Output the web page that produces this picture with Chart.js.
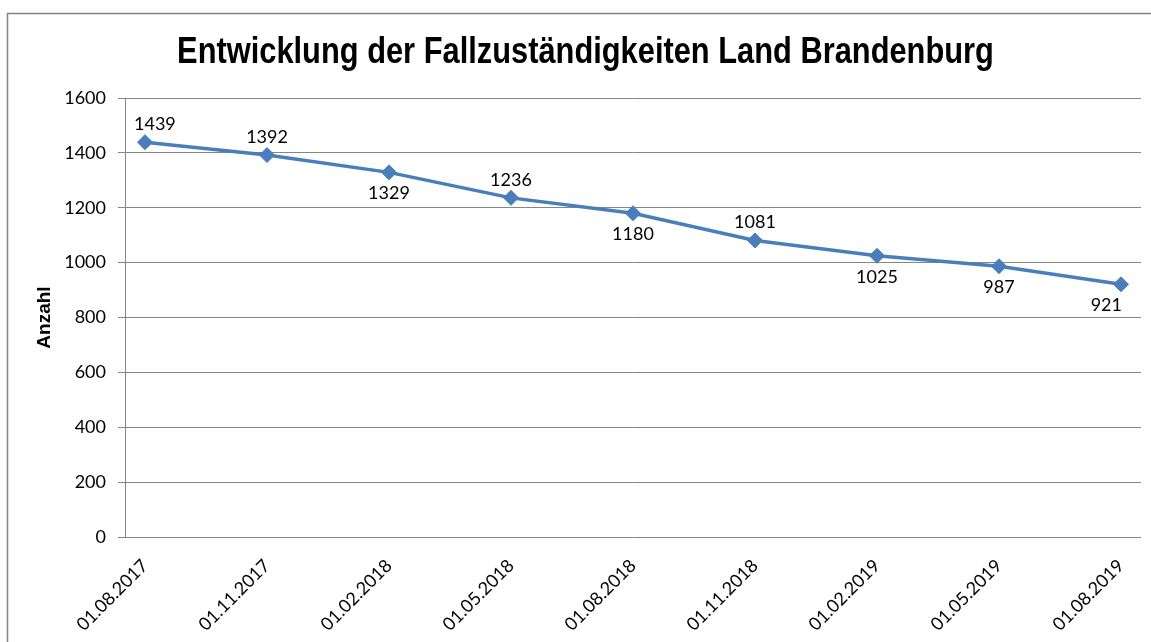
<!DOCTYPE html>
<html><head><meta charset="utf-8">
<script src="https://cdn.jsdelivr.net/npm/chart.js@4.4.1/dist/chart.umd.min.js"></script>
<style>html,body{margin:0;padding:0;background:#fff;overflow:hidden}#wrap{width:1151px;height:642px;position:relative}</style>
</head><body><div id="wrap"><canvas id="c" width="1151" height="642"></canvas></div>
<script>
const categories = ['01.08.2017','01.11.2017','01.02.2018','01.05.2018','01.08.2018','01.11.2018','01.02.2019','01.05.2019','01.08.2019'];
const values = [1439,1392,1329,1236,1180,1081,1025,987,921];
const yTickValues = [0,200,400,600,800,1000,1200,1400,1600];
const titleText = 'Entwicklung der Fallzuständigkeiten Land Brandenburg';
const yAxisTitle = 'Anzahl';

const labelSides = ['above','above','below','above','below','above','below','below','below'];
const TICK_FONT = {family:"Lato, 'Open Sans', sans-serif", size:18};
const GRID = '#868686';
const BLUE = '#4a7ebb';

const framePlugin = {
  id:'frame',
  beforeDraw(chart){
    const ctx = chart.ctx;
    ctx.save();
    ctx.fillStyle='#fff';
    ctx.fillRect(0,0,chart.width,chart.height);
    ctx.strokeStyle='#828282';
    ctx.lineWidth=1.5;
    ctx.strokeRect(7.5,13.5,1170,660);
    ctx.restore();
  }
};

// condensed bold title (Arial Narrow look), drawn as canvas text
const titlePlugin = {
  id:'narrowTitle',
  afterDraw(chart){
    const ctx = chart.ctx;
    ctx.save();
    ctx.font = "bold 37px 'Liberation Sans', Arial, sans-serif";
    ctx.fillStyle = '#000';
    ctx.textBaseline = 'alphabetic';
    ctx.textAlign = 'center';
    ctx.translate(585.5, 63);
    ctx.scale(0.833, 1);
    ctx.fillText(titleText, 0, 0);
    ctx.restore();
  }
};

const dataLabelPlugin = {
  id:'dlabels',
  afterDatasetsDraw(chart){
    const ctx = chart.ctx;
    const meta = chart.getDatasetMeta(0);
    const area = chart.chartArea;
    ctx.save();
    ctx.font = `${TICK_FONT.size}px ${TICK_FONT.family}`;
    ctx.fillStyle = '#000';
    ctx.textBaseline = 'alphabetic';
    ctx.textAlign = 'left';
    meta.data.forEach((pt,i)=>{
      const txt = String(values[i]);
      const w = ctx.measureText(txt).width;
      let x = pt.x - w/2;
      if (x < area.left + 9) x = area.left + 9;
      if (x + w > area.right - 19) x = area.right - 19 - w;
      const y = labelSides[i]==='above' ? pt.y - 12 : pt.y + 27;
      ctx.fillText(txt, x, y);
    });
    ctx.restore();
  }
};

new Chart(document.getElementById('c'), {
  type:'line',
  data:{
    datasets:[{
      data: values.map((v,i)=>({x:i,y:v})),
      borderColor: BLUE,
      backgroundColor: BLUE,
      borderWidth: 3.5,
      pointStyle:'rectRot',
      pointRadius: 7.5,
      pointBackgroundColor: BLUE,
      pointBorderColor: BLUE,
      pointBorderWidth: 1,
      tension: 0,
      fill:false
    }]
  },
  options:{
    responsive:false,
    animation:false,
    devicePixelRatio:1,
    layout:{padding:{left:30,right:10,top:98,bottom:0}},
    plugins:{
      legend:{display:false},
      tooltip:{enabled:false},
      title:{display:false}
    },
    scales:{
      x:{
        type:'linear',
        min:-0.164,
        max:8.164,
        afterBuildTicks: s => { s.ticks = categories.map((c,i)=>({value:i})); },
        afterFit: s => { s.height = 105; s.paddingLeft = 0; s.paddingRight = 0; },
        ticks:{
          callback:(v)=>categories[Math.round(v)],
          autoSkip:false,
          minRotation:45,
          maxRotation:45,
          font:{family:TICK_FONT.family, size:18},
          color:'#000',
          padding:18
        },
        grid:{display:false, drawTicks:false},
        border:{display:false}
      },
      y:{
        min:0,
        max:1600,
        afterBuildTicks: s => { s.ticks = yTickValues.map(v=>({value:v})); },
        afterFit: s => { s.width = 95; s.paddingTop = 0; s.paddingBottom = 0; },
        ticks:{font:TICK_FONT, color:'#000', padding:12, callback:(v)=>String(v)},
        grid:{color:GRID, lineWidth:1, drawTicks:true, tickLength:7},
        border:{display:true, color:GRID, width:1},
        title:{
          display:true,
          text:yAxisTitle,
          color:'#000',
          font:{family:"'Liberation Sans', Arial, sans-serif", size:19, weight:'bold'},
          padding:{top:3,bottom:0}
        }
      }
    }
  },
  plugins:[framePlugin, dataLabelPlugin, titlePlugin]
});
</script></body></html>
